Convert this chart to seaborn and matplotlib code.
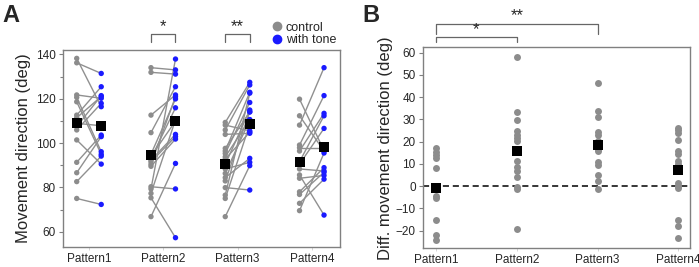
import numpy as np
import pandas as pd
import seaborn as sns
import matplotlib.pyplot as plt
from matplotlib.lines import Line2D
from matplotlib.ticker import MultipleLocator

sns.set_theme(style="ticks")
plt.rcParams["font.family"] = ["Liberation Sans", "DejaVu Sans"]

patterns = ["Pattern1", "Pattern2", "Pattern3", "Pattern4"]

# panel A: paired values (control[i] is joined to tone[i])
ctrl_p1 = [138.2, 136.2, 121.7, 120.6, 118.6, 112.6, 111.4, 108.9, 107.4, 105.9, 101.4, 91.3, 86.6, 82.6, 75.0]
tone_p1 = [116.4, 131.4, 120.2, 96.1, 94.9, 125.4, 121.0, 107.8, 121.4, 117.9, 90.5, 103.6, 102.9, 94.1, 72.3]
ctrl_p2 = [134.0, 131.9, 112.6, 104.7, 95.0, 94.0, 93.0, 92.3, 90.4, 80.3, 79.3, 77.3, 75.3, 66.8, 91.5, 89.5]
tone_p2 = [133.0, 131.1, 121.7, 125.4, 119.9, 109.9, 115.9, 103.9, 120.9, 79.3, 137.9, 110.5, 57.3, 90.8, 102.9, 101.8]
ctrl_p3 = [109.3, 108.1, 105.9, 103.9, 97.6, 96.4, 95.3, 93.8, 92.8, 90.4, 88.3, 86.3, 84.4, 82.9, 79.9, 76.5, 75.0, 66.8]
tone_p3 = [127.4, 105.5, 126.2, 104.4, 114.0, 122.9, 118.3, 110.6, 104.9, 114.9, 91.3, 110.4, 93.1, 114.1, 78.8, 122.5, 108.4, 89.8]
ctrl_p4 = [119.8, 112.3, 108.1, 99.1, 97.9, 96.4, 91.6, 90.5, 88.3, 85.6, 84.1, 78.0, 76.8, 72.8, 69.5]
tone_p4 = [96.6, 96.4, 134.0, 121.4, 97.9, 113.4, 112.3, 106.6, 87.4, 67.5, 85.4, 88.9, 86.8, 83.7, 95.5]
ctrl_means = [108.9, 94.6, 90.4, 91.6]
tone_means = [107.6, 109.9, 108.4, 98.3]

# panel B: differences (with tone - control)
diff_p1 = [17.0, 15.5, 14.0, 12.5, 8.0, -1.5, -4.5, -5.5, -15.0, -22.0, -24.0]
diff_p2 = [58.0, 33.3, 29.8, 24.7, 23.2, 21.7, 20.5, 11.2, 8.5, 6.7, 4.3, -0.4, -1.5, -19.2]
diff_p3 = [46.3, 33.6, 31.0, 24.3, 23.1, 20.5, 16.8, 16.0, 10.8, 9.3, 4.8, 2.5, -1.2]
diff_p4 = [26.2, 25.0, 23.8, 20.8, 16.0, 14.5, 11.2, 10.0, 8.8, 1.3, -0.1, -0.9, -15.1, -17.7, -23.2]
diff_means = [-1.0, 15.7, 18.5, 7.3]

GREY = "#8c8c8c"
BLUE = "#1a1aff"
SPINE = "#808080"
OFF = 0.165

rows = []
for i, (c, t) in enumerate(zip([ctrl_p1, ctrl_p2, ctrl_p3, ctrl_p4],
                               [tone_p1, tone_p2, tone_p3, tone_p4])):
    for j, (cv, tv) in enumerate(zip(c, t)):
        rows.append(dict(uid=f"{i}-{j}", cond="control", x=i - OFF, val=cv))
        rows.append(dict(uid=f"{i}-{j}", cond="with tone", x=i + OFF, val=tv))
df_a = pd.DataFrame(rows)
means_a = pd.DataFrame({
    "x": [i - OFF for i in range(4)] + [i + OFF for i in range(4)],
    "val": ctrl_means + tone_means,
})

df_b = pd.DataFrame({
    "pattern": sum([[p] * len(d) for p, d in zip(patterns, [diff_p1, diff_p2, diff_p3, diff_p4])], []),
    "diff": diff_p1 + diff_p2 + diff_p3 + diff_p4,
})

fig = plt.figure(figsize=(6.99, 2.67), dpi=100)
ax_a = fig.add_axes([0.0901, 0.0749, 0.3963, 0.7397])
ax_b = fig.add_axes([0.6047, 0.0712, 0.3824, 0.7509])

# ---- panel A
sns.lineplot(data=df_a, x="x", y="val", units="uid", estimator=None,
             color="#909090", lw=1, ax=ax_a, legend=False)
sns.scatterplot(data=df_a, x="x", y="val", hue="cond",
                palette={"control": GREY, "with tone": BLUE},
                s=15, linewidth=0, ax=ax_a, legend=False, zorder=3)
sns.scatterplot(data=means_a, x="x", y="val", marker="s", color="black",
                s=48, linewidth=0, ax=ax_a, zorder=4)
ax_a.set_xlim(-0.35, 3.38)
ax_a.set_ylim(53.1, 142.2)
ax_a.set_xticks(range(4))
ax_a.set_xticklabels(patterns)
ax_a.yaxis.set_major_locator(MultipleLocator(20))
ax_a.yaxis.set_minor_locator(MultipleLocator(10))
ax_a.set_xlabel("")
ax_a.set_ylabel("Movement direction (deg)", fontsize=12, labelpad=4)

handles = [Line2D([], [], marker="o", ls="", color=GREY, ms=6, label="control"),
           Line2D([], [], marker="o", ls="", color=BLUE, ms=6, label="with tone")]
ax_a.legend(handles=handles, loc="lower right", bbox_to_anchor=(0.99, 1.01),
            frameon=False, fontsize=9, handlelength=0.8, handletextpad=0.3,
            labelspacing=0.05, borderaxespad=0, borderpad=0.1)

for i, star in [(1, "*"), (2, "**")]:
    ax_a.plot([i - OFF, i - OFF, i + OFF, i + OFF], [145.5, 149.0, 149.0, 145.5],
              color="#666666", lw=0.9, clip_on=False)
    ax_a.text(i, 149.0, star, ha="center", va="bottom", fontsize=12)

# ---- panel B
ax_b.axhline(0, color="black", lw=1.1, ls=(0, (4, 2.5)), zorder=1)
sns.stripplot(data=df_b, x="pattern", y="diff", jitter=False, color=GREY,
              size=5, linewidth=0, ax=ax_b, zorder=2)
sns.stripplot(x=patterns, y=diff_means, jitter=False, color="black",
              marker="s", size=7, linewidth=0, ax=ax_b, zorder=4)
ax_b.set_xlim(-0.165, 3.145)
ax_b.set_ylim(-27.8, 62.3)
ax_b.yaxis.set_major_locator(MultipleLocator(10))
ax_b.set_xlabel("")
ax_b.set_ylabel("Diff. movement direction (deg)", fontsize=12, labelpad=2)

for (a, b, ylo, yhi, star) in [(0, 1, 64.8, 66.9, "*"), (0, 2, 68.4, 72.9, "**")]:
    ax_b.plot([a, a, b, b], [ylo, yhi, yhi, ylo], color="#666666", lw=0.9, clip_on=False)
    ax_b.text((a + b) / 2, yhi + 0.2, star, ha="center", va="bottom", fontsize=12)

for ax in (ax_a, ax_b):
    for sp in ax.spines.values():
        sp.set_visible(True)
        sp.set_color(SPINE)
        sp.set_linewidth(1)
    ax.tick_params(axis="y", which="major", labelsize=8.5, length=3, width=0.8, color=SPINE, pad=2)
    ax.tick_params(axis="y", which="minor", length=2, width=0.8, color=SPINE)
    ax.tick_params(axis="x", labelsize=8.5, length=2, width=0.6, color="#d0d0d0", pad=2)

fig.text(0.004, 0.985, "A", fontsize=17, fontweight="bold", va="top", ha="left")
fig.text(0.519, 0.985, "B", fontsize=17, fontweight="bold", va="top", ha="left")

fig.savefig("out.png", dpi=100)
